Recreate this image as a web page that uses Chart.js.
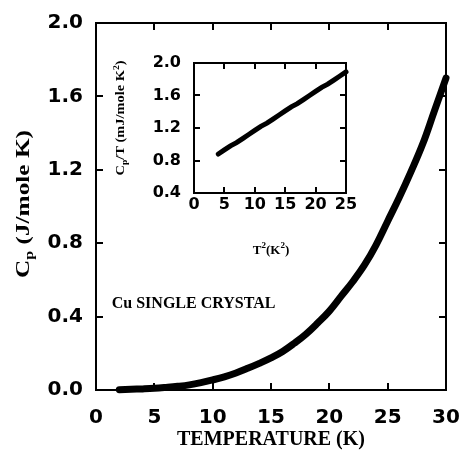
<!DOCTYPE html>
<html>
<head>
<meta charset="utf-8">
<script src="https://cdn.jsdelivr.net/npm/chart.js@4.4.1/dist/chart.umd.min.js"></script>
<style>
  html, body { margin: 0; padding: 0; background: #fff; }
  #wrap { position: relative; width: 462px; height: 454px; }
  #mainChart { position: absolute; left: 0; top: 0; }
  #insetChart { position: absolute; left: 105px; top: 50px; }
</style>
</head>
<body>
<div id="wrap">
  <canvas id="mainChart" width="462" height="454"></canvas>
  <canvas id="insetChart" width="255" height="210"></canvas>
</div>
<script>
// main curve: Cp (J/mole K) vs temperature (K)
const temps = [2, 3, 4, 5, 6, 7, 8, 9, 10, 11, 12, 13, 14, 15, 16, 17, 18, 19, 20, 21, 22, 23, 24, 25, 26, 27, 28, 29, 30];
const cp = [0.002, 0.004, 0.006, 0.009, 0.014, 0.02, 0.028, 0.04, 0.055, 0.072, 0.093, 0.118, 0.145, 0.175, 0.21, 0.255, 0.305, 0.365, 0.43, 0.51, 0.59, 0.68, 0.79, 0.92, 1.05, 1.19, 1.34, 1.52, 1.70];

// inset: Cp/T (mJ/mole K^2) vs T^2 (K^2)
const tSquared = [4, 5, 6, 7, 8, 9, 10, 11, 12, 13, 14, 15, 16, 17, 18, 19, 20, 21, 22, 23, 24, 25];
const cpOverT = [0.88, 0.93, 0.98, 1.02, 1.07, 1.12, 1.17, 1.22, 1.26, 1.31, 1.36, 1.41, 1.46, 1.50, 1.55, 1.60, 1.65, 1.70, 1.74, 1.79, 1.84, 1.89];

const mainXTicks = [0, 5, 10, 15, 20, 25, 30];
const mainYTicks = [0, 0.4, 0.8, 1.2, 1.6, 2.0];
const insetXTicks = [0, 5, 10, 15, 20, 25];
const insetYTicks = [0.4, 0.8, 1.2, 1.6, 2.0];

const sansFont = 'DejaVu Sans';
const serifFont = 'Liberation Serif';

// box around the plot with inward ticks on all four sides
const frameTicks = {
    id: 'frameTicks',
    afterDraw(chart, args, opts) {
        const ctx = chart.ctx;
        const a = chart.chartArea;
        const x = chart.scales.x, y = chart.scales.y;
        const len = opts.len;
        ctx.save();
        ctx.strokeStyle = '#000';
        ctx.lineWidth = opts.lw;
        ctx.strokeRect(a.left, a.top, a.right - a.left, a.bottom - a.top);
        ctx.beginPath();
        x.ticks.forEach(t => {
            const px = Math.round(x.getPixelForValue(t.value));
            ctx.moveTo(px, a.bottom); ctx.lineTo(px, a.bottom - len);
            ctx.moveTo(px, a.top); ctx.lineTo(px, a.top + len);
        });
        y.ticks.forEach(t => {
            const py = Math.round(y.getPixelForValue(t.value));
            ctx.moveTo(a.left, py); ctx.lineTo(a.left + len, py);
            ctx.moveTo(a.right, py); ctx.lineTo(a.right - len, py);
        });
        ctx.stroke();
        ctx.restore();
    }
};

// text made of parts [text, size, shift], centred on (cx, cy), stretched to width if given
function drawParts(ctx, parts, cx, cy, rotate, width) {
    ctx.save();
    ctx.translate(cx, cy);
    if (rotate) ctx.rotate(-Math.PI / 2);
    ctx.fillStyle = '#000';
    ctx.textBaseline = 'alphabetic';
    let total = 0;
    parts.forEach(p => { ctx.font = 'bold ' + p[1] + 'px "' + serifFont + '"'; total += ctx.measureText(p[0]).width; });
    if (width) ctx.scale(width / total, 1);
    let px = -total / 2;
    parts.forEach(p => {
        ctx.font = 'bold ' + p[1] + 'px "' + serifFont + '"';
        ctx.fillText(p[0], px, p[2]);
        px += ctx.measureText(p[0]).width;
    });
    ctx.restore();
}

const mainLabels = {
    id: 'mainLabels',
    afterDraw(chart) {
        const ctx = chart.ctx;
        drawParts(ctx, [['C', 19, 6], ['p', 12, 10], [' (J/mole K)', 19, 6]], 23, 204, true, 148);
        const x = chart.scales.x, y = chart.scales.y;
        ctx.save();
        ctx.fillStyle = '#000';
        ctx.font = 'bold 16px "' + serifFont + '"';
        ctx.textBaseline = 'alphabetic';
        ctx.fillText('Cu SINGLE CRYSTAL', x.getPixelForValue(1.35), y.getPixelForValue(0.445));
        ctx.restore();
    }
};

const insetLabels = {
    id: 'insetLabels',
    afterDraw(chart) {
        const ctx = chart.ctx;
        drawParts(ctx, [['C', 12, 4], ['p', 8, 7], ['/T (mJ/mole K', 12, 4], ['2', 8, -1], [')', 12, 4]], 15, 68, true, 115);
        drawParts(ctx, [['T', 13, 0], ['2', 9, -6], ['(K', 13, 0], ['2', 9, -6], [')', 13, 0]], 166, 204, false, 0);
    }
};

// fixed axis sizes, no extra room for overhanging labels
function fixX(h) {
    return s => { s.height = h; s.paddingLeft = 0; s.paddingRight = 0; };
}
function fixY(w) {
    return s => { s.width = w; s.paddingTop = 0; s.paddingBottom = 0; };
}

new Chart(document.getElementById('mainChart'), {
    type: 'line',
    data: {
        datasets: [{
            data: temps.map((t, i) => ({ x: t, y: cp[i] })),
            borderColor: '#000',
            borderWidth: 7,
            borderCapStyle: 'round',
            pointRadius: 0,
            tension: 0.4,
            clip: false
        }]
    },
    options: {
        responsive: false,
        animation: false,
        layout: { padding: { left: 0, right: 16, top: 23, bottom: 0 } },
        plugins: {
            legend: { display: false },
            tooltip: { enabled: false },
            frameTicks: { len: 7, lw: 2 }
        },
        scales: {
            x: {
                type: 'linear', min: 0, max: 30,
                afterBuildTicks: s => { s.ticks = mainXTicks.map(v => ({ value: v })); },
                afterFit: fixX(64),
                grid: { display: false, drawTicks: false },
                border: { display: false },
                ticks: { color: '#000', padding: 16, font: { family: sansFont, size: 20, weight: 'bold' } },
                title: { display: true, text: 'TEMPERATURE (K)', color: '#000', padding: { top: 0, bottom: 2 }, font: { family: serifFont, size: 20, weight: 'bold' } }
            },
            y: {
                type: 'linear', min: 0, max: 2.0,
                afterBuildTicks: s => { s.ticks = mainYTicks.map(v => ({ value: v })); },
                afterFit: fixY(96),
                grid: { display: false, drawTicks: false },
                border: { display: false },
                ticks: { color: '#000', padding: 13, font: { family: sansFont, size: 20, weight: 'bold' }, callback: v => v.toFixed(1) }
            }
        }
    },
    plugins: [frameTicks, mainLabels]
});

new Chart(document.getElementById('insetChart'), {
    type: 'line',
    data: {
        datasets: [{
            data: tSquared.map((t, i) => ({ x: t, y: cpOverT[i] })),
            borderColor: '#000',
            borderWidth: 5,
            borderCapStyle: 'round',
            pointRadius: 0,
            tension: 0,
            clip: false
        }]
    },
    options: {
        responsive: false,
        animation: false,
        layout: { padding: { left: 0, right: 14, top: 13, bottom: 0 } },
        plugins: {
            legend: { display: false },
            tooltip: { enabled: false },
            frameTicks: { len: 6, lw: 2 }
        },
        scales: {
            x: {
                type: 'linear', min: 0, max: 25,
                afterBuildTicks: s => { s.ticks = insetXTicks.map(v => ({ value: v })); },
                afterFit: fixX(67),
                grid: { display: false, drawTicks: false },
                border: { display: false },
                ticks: { color: '#000', padding: 2, font: { family: sansFont, size: 16, weight: 'bold' } }
            },
            y: {
                type: 'linear', min: 0.4, max: 2.0,
                afterBuildTicks: s => { s.ticks = insetYTicks.map(v => ({ value: v })); },
                afterFit: fixY(89),
                grid: { display: false, drawTicks: false },
                border: { display: false },
                ticks: { color: '#000', padding: 13, font: { family: sansFont, size: 16, weight: 'bold' }, callback: v => v.toFixed(1) }
            }
        }
    },
    plugins: [frameTicks, insetLabels]
});
</script>
</body>
</html>
